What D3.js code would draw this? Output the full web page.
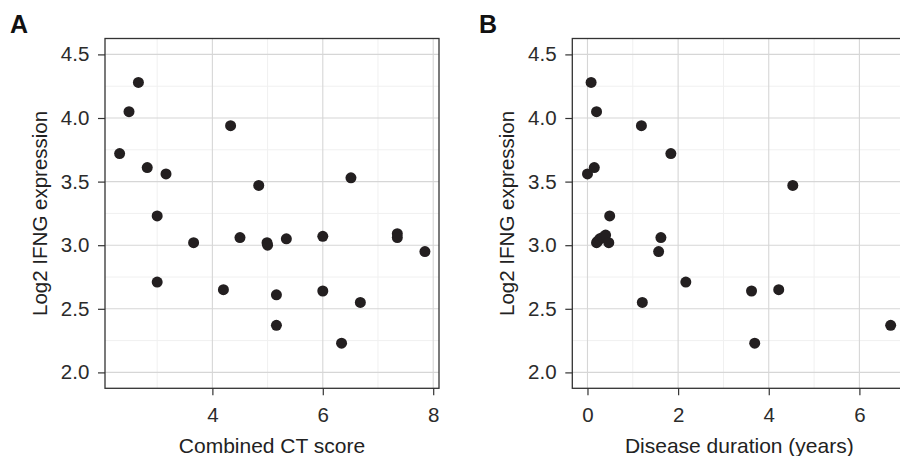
<!DOCTYPE html>
<html><head><meta charset="utf-8">
<script src="https://cdn.jsdelivr.net/npm/d3@7"></script>
<style>html,body{margin:0;padding:0;background:#fff;overflow:hidden}</style>
</head><body>
<svg id="chart" width="900" height="456"></svg>
<script>
// Panel A: Combined CT score vs Log2 IFNG expression
const ctScore = [2.66, 2.49, 2.32, 2.82, 3.16, 3.00, 4.33, 4.84, 6.51, 3.66, 3.00, 4.50, 4.99, 5.00, 5.34, 6.00, 7.35, 7.35, 7.85, 4.20, 5.16, 6.00, 6.68, 5.16, 6.34];
const ifngA   = [4.28, 4.05, 3.72, 3.61, 3.56, 3.23, 3.94, 3.47, 3.53, 3.02, 2.71, 3.06, 3.02, 3.00, 3.05, 3.07, 3.09, 3.06, 2.95, 2.65, 2.61, 2.64, 2.55, 2.37, 2.23];
// Panel B: Disease duration vs Log2 IFNG expression
const duration = [0.08, 0.20, 1.19, 1.84, 0.15, 0.00, 4.53, 0.49, 1.62, 1.57, 1.21, 2.17, 3.62, 4.22, 3.69, 6.69, 0.20, 0.22, 0.27, 0.33, 0.40, 0.47];
const ifngB    = [4.28, 4.05, 3.94, 3.72, 3.61, 3.56, 3.47, 3.23, 3.06, 2.95, 2.55, 2.71, 2.64, 2.65, 2.23, 2.37, 3.02, 3.03, 3.05, 3.06, 3.08, 3.02];
const yTicks = [2.0, 2.5, 3.0, 3.5, 4.0, 4.5];
const xTicksA = [4, 6, 8];
const xTicksB = [0, 2, 4, 6];
const panelLabels = ["A", "B"];
const xTitles = ["Combined CT score", "Disease duration (years)"];
const yTitle = "Log2 IFNG expression";

const svg = d3.select("#chart");
const font = "'Liberation Sans', Arial, Helvetica, sans-serif";
const pTop = 38.5, pBottom = 388.3, pw = 334;

function panel(opts) {
  const {left, xs, ys, xDomain, xTicks, label, xTitle, labelX} = opts;
  const x = d3.scaleLinear().domain(xDomain).range([left, left + pw]);
  const y = d3.scaleLinear().domain([1.875, 4.625]).range([pBottom, pTop]);
  const g = svg.append("g");
  const clipId = "clip" + label;
  svg.append("clipPath").attr("id", clipId).append("rect")
    .attr("x", left).attr("y", pTop).attr("width", pw).attr("height", pBottom - pTop);
  const grid = g.append("g").attr("clip-path", `url(#${clipId})`);
  const step = xTicks[1] - xTicks[0];
  const xMinor = xTicks.map(t => t - step / 2).concat([xTicks[xTicks.length - 1] + step / 2]);
  const yMinor = yTicks.slice(0, -1).map(t => t + 0.25);
  grid.selectAll(".xm").data(xMinor).join("line")
    .attr("x1", d => x(d)).attr("x2", d => x(d)).attr("y1", pTop).attr("y2", pBottom)
    .attr("stroke", "#f0f0f0").attr("stroke-width", 1);
  grid.selectAll(".ym").data(yMinor).join("line")
    .attr("y1", d => y(d)).attr("y2", d => y(d)).attr("x1", left).attr("x2", left + pw)
    .attr("stroke", "#f0f0f0").attr("stroke-width", 1);
  grid.selectAll(".xM").data(xTicks).join("line")
    .attr("x1", d => x(d)).attr("x2", d => x(d)).attr("y1", pTop).attr("y2", pBottom)
    .attr("stroke", "#d6d6d6").attr("stroke-width", 1.1);
  grid.selectAll(".yM").data(yTicks).join("line")
    .attr("y1", d => y(d)).attr("y2", d => y(d)).attr("x1", left).attr("x2", left + pw)
    .attr("stroke", "#d6d6d6").attr("stroke-width", 1.1);
  g.append("g").attr("clip-path", `url(#${clipId})`).selectAll("circle")
    .data(xs.map((v, i) => [v, ys[i]])).join("circle")
    .attr("cx", d => x(d[0])).attr("cy", d => y(d[1])).attr("r", 5.5).attr("fill", "#231f20");
  g.append("rect").attr("x", left).attr("y", pTop).attr("width", pw).attr("height", pBottom - pTop)
    .attr("fill", "none").attr("stroke", "#333").attr("stroke-width", 1.3);
  const ax = g.append("g").attr("transform", `translate(0,${pBottom})`)
    .call(d3.axisBottom(x).tickValues(xTicks).tickFormat(d3.format("d")).tickSize(7).tickPadding(12.3));
  const ay = g.append("g").attr("transform", `translate(${left},0)`)
    .call(d3.axisLeft(y).tickValues(yTicks).tickFormat(d3.format(".1f")).tickSize(7).tickPadding(8.7));
  [ax, ay].forEach(a => {
    a.select(".domain").remove();
    a.selectAll("line").attr("stroke", "#333").attr("stroke-width", 1.2);
    a.selectAll("text").attr("fill", "#2b2b2b").style("font-family", font).style("font-size", "20.5px");
  });
  g.append("text").attr("x", left + pw / 2).attr("y", 453.3).attr("text-anchor", "middle")
    .style("font-family", font).style("font-size", "21px").attr("fill", "#222").text(xTitle);
  g.append("text").attr("transform", `translate(${left - 58},${(pTop + pBottom) / 2}) rotate(-90)`)
    .attr("text-anchor", "middle").style("font-family", font).style("font-size", "20.5px")
    .attr("fill", "#222").text(yTitle);
  g.append("text").attr("x", labelX).attr("y", 33.3).style("font-family", font)
    .style("font-size", "25px").style("font-weight", "bold").attr("fill", "#111").text(label);
}

panel({left: 105, xs: ctScore, ys: ifngA, xDomain: [2.055, 8.105], xTicks: xTicksA,
       label: panelLabels[0], xTitle: xTitles[0], labelX: 10});
panel({left: 572.3, xs: duration, ys: ifngB, xDomain: [-0.335, 7.035], xTicks: xTicksB,
       label: panelLabels[1], xTitle: xTitles[1], labelX: 479});
</script>
</body></html>
